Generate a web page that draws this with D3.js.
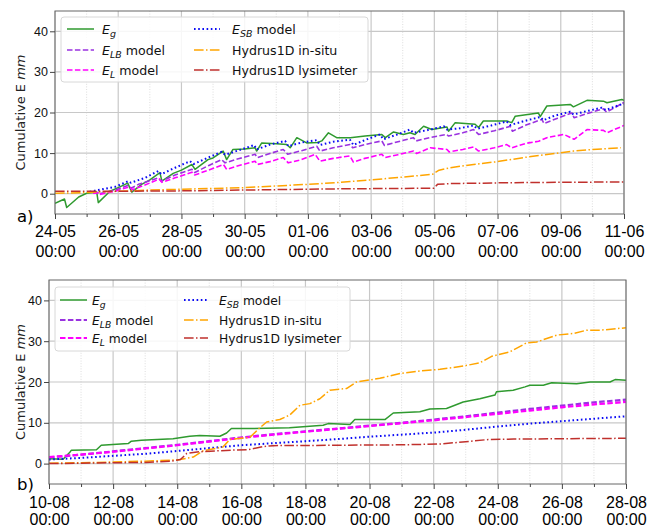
<!DOCTYPE html>
<html>
<head>
<meta charset="utf-8">
<script src="https://cdn.jsdelivr.net/npm/d3@7"></script>
<style>
  body { margin: 0; background: #fff; }
  svg { font-family: "DejaVu Sans", sans-serif; }
</style>
</head>
<body>
<svg id="chart" width="648" height="528"></svg>
<script>
// panel a) 24-05 .. 11-06, values as [day offset, cumulative E mm]
let startA = new Date(2019, 4, 24);
let egA = [[0,-2.4],[0.3,-1.3],[0.37,-3.4],[0.75,-0.8],[1.0,0.1],[1.32,0.4],[1.37,-2.2],[1.74,0.6],[2.0,1.5],[2.3,2.6],[2.43,0.4],[2.74,2.3],[3.0,3.4],[3.32,5.2],[3.38,3.1],[3.74,5.0],[4.0,5.8],[4.33,7.2],[4.43,6.0],[4.84,8.4],[5.0,8.8],[5.32,10.5],[5.43,8.4],[5.63,10.9],[6.0,11.0],[6.33,11.3],[6.38,10.5],[6.54,12.5],[7.0,12.3],[7.33,12.1],[7.44,11.3],[7.65,13.8],[7.96,12.5],[8.3,12.6],[8.44,13.0],[8.65,15.0],[8.91,13.8],[9.34,13.8],[9.81,14.2],[10.34,14.6],[10.45,13.8],[10.71,15.2],[11.02,14.6],[11.23,15.0],[11.39,14.6],[11.66,16.6],[11.92,15.8],[12.3,16.3],[12.4,16.4],[12.45,15.4],[12.66,17.5],[13.29,17.1],[13.4,16.3],[13.55,17.9],[14.29,17.9],[14.45,17.5],[14.56,19.1],[15.29,19.9],[15.35,19.0],[15.56,21.6],[16.3,22.0],[16.4,21.4],[16.83,23.0],[17.35,22.8],[17.46,22.4],[17.93,23.2],[18,23.0]];
let elbA = [[1.2,0.1],[1.37,0.3],[1.4,0.0],[1.9,0.9],[2.3,2.0],[2.42,1.4],[2.64,2.3],[3.27,3.9],[3.36,3.1],[3.8,4.6],[4.33,6.0],[4.42,5.2],[4.85,6.9],[5.27,8.4],[5.38,7.6],[5.8,8.6],[6.33,9.7],[6.4,8.9],[6.8,9.9],[7.22,10.9],[7.36,9.7],[7.8,10.6],[8.28,11.7],[8.38,10.5],[8.8,11.3],[9.33,12.1],[9.42,11.3],[9.8,12.1],[10.34,13.0],[10.42,11.9],[10.85,12.8],[11.34,13.8],[11.42,13.0],[11.9,13.9],[12.39,14.6],[12.45,14.2],[12.9,15.0],[13.24,15.8],[13.4,14.6],[13.9,15.5],[14.4,16.6],[14.47,15.4],[14.9,16.9],[15.4,18.3],[15.47,17.3],[15.9,18.6],[16.35,19.9],[16.42,18.7],[16.9,19.9],[17.35,20.9],[17.45,20.1],[17.98,22.4],[18,22.3]];
let elA = [[1.2,0.1],[1.37,0.2],[1.4,-0.2],[1.9,0.6],[2.35,1.7],[2.45,1.0],[2.8,2.0],[3.3,3.6],[3.38,2.8],[3.8,3.9],[4.33,5.3],[4.42,4.6],[4.85,5.8],[5.33,7.2],[5.43,6.0],[5.85,7.0],[6.33,8.0],[6.4,7.2],[6.8,7.9],[7.22,8.9],[7.38,7.6],[7.8,8.4],[8.23,9.7],[8.38,8.0],[8.8,8.7],[9.33,9.3],[9.44,7.8],[9.8,8.7],[10.34,9.7],[10.44,8.9],[10.85,9.6],[11.34,10.5],[11.44,9.9],[11.87,11.3],[12.4,10.9],[12.47,10.3],[12.9,10.9],[13.24,11.5],[13.4,10.5],[13.9,11.3],[14.29,12.1],[14.45,11.3],[14.9,12.4],[15.3,12.9],[15.56,13.8],[16.1,14.6],[16.42,13.4],[16.83,15.8],[17.35,15.6],[17.46,15.0],[18,16.8]];
let esbA = [[1.1,0.5],[1.37,0.9],[1.9,1.7],[2.32,3.1],[2.4,2.7],[2.85,3.9],[3.27,5.6],[3.36,4.8],[3.8,6.4],[4.27,8.0],[4.38,7.3],[4.85,8.9],[5.27,10.3],[5.38,9.6],[5.9,10.9],[6.3,12.0],[6.38,10.9],[6.8,12.1],[7.28,13.0],[7.38,11.7],[7.8,12.6],[8.28,13.2],[8.38,12.0],[8.8,12.8],[9.33,13.3],[9.44,12.0],[9.8,13.2],[10.28,14.6],[10.39,13.4],[10.8,14.5],[11.23,15.8],[11.34,15.0],[11.87,15.8],[12.3,16.6],[12.4,15.8],[12.8,16.1],[13.24,16.8],[13.36,16.0],[13.8,16.8],[14.29,17.8],[14.4,16.9],[14.8,17.8],[15.35,18.9],[15.45,18.1],[15.8,19.2],[16.3,20.2],[16.4,19.5],[16.8,20.3],[17.3,21.2],[17.42,20.6],[17.98,22.2],[18,22.1]];
let insituA = [[0,0.1],[1,0.3],[2,0.6],[3,0.9],[4,1.1],[5,1.3],[6,1.5],[7,1.9],[8,2.3],[9,2.8],[10,3.4],[11,4.1],[11.95,4.8],[12.15,5.8],[12.5,6.4],[13.24,7.2],[14,7.9],[14.82,8.9],[15.5,9.6],[16.4,10.5],[17,10.9],[17.9,11.3]];
let lysA = [[0,0.6],[1,0.6],[2,0.6],[3,0.65],[4,0.7],[5,0.8],[6,0.9],[7,1.0],[8,1.1],[9,1.2],[10,1.25],[11,1.3],[11.98,1.35],[12.1,2.3],[12.5,2.5],[13.5,2.6],[14.3,2.7],[16,2.8],[18,2.9]];

// panel b) 10-08 .. 28-08
let startB = new Date(2019, 7, 10);
let egB = [[0,1.2],[0.44,1.05],[0.65,2.8],[0.7,3.3],[1.48,3.4],[1.63,4.5],[2.47,4.9],[2.57,5.5],[2.88,5.7],[3.87,6.1],[4.39,6.7],[4.7,6.9],[5.33,6.7],[5.54,7.5],[5.69,8.6],[6.26,8.6],[7.5,8.8],[8.55,9.4],[8.71,9.8],[9.39,9.6],[9.54,10.8],[10.48,10.8],[10.74,12.4],[11.57,12.7],[11.88,13.4],[12.4,13.5],[12.92,15.1],[13.44,15.9],[13.91,16.8],[13.96,17.6],[14.48,18.0],[14.85,18.8],[15.0,19.2],[15.42,19.2],[15.68,19.8],[16.46,19.6],[16.88,20.0],[17.5,20.0],[17.66,20.6],[18,20.4]];
let elbB = [[0,1.5],[1,2.2],[2,3.0],[3,3.8],[4,4.6],[5,5.5],[6,6.4],[7,7.2],[8,7.9],[9,8.6],[10,9.3],[11,10.0],[12,10.8],[13,11.6],[14,12.5],[15,13.4],[16,14.2],[17,15.0],[18,15.7]];
let elB = [[0,1.6],[1,2.2],[2,2.9],[3,3.7],[4,4.5],[5,5.4],[6,6.3],[7,7.1],[8,7.8],[9,8.5],[10,9.2],[11,9.9],[12,10.6],[13,11.4],[14,12.2],[15,13.0],[16,13.8],[17,14.5],[18,15.1]];
let esbB = [[0,1.0],[1,1.4],[2,1.9],[3,2.4],[4,3.1],[5,3.8],[6,4.5],[7,5.0],[8,5.5],[9,6.0],[10,6.6],[11,7.1],[12,7.6],[13,8.3],[14,9.1],[15,9.8],[16,10.4],[17,11.0],[18,11.6]];
let insituB = [[0,0.1],[1,0.2],[2,0.4],[3,0.6],[4,0.9],[4.5,1.6],[4.8,3.1],[5.43,4.1],[5.64,5.9],[6.26,6.4],[6.58,8.8],[6.79,10.2],[7.2,10.8],[7.51,11.9],[7.83,14.3],[8.14,14.7],[8.45,15.9],[8.76,18.0],[9.28,18.4],[9.59,20.0],[10.32,20.9],[10.95,22.1],[11.57,22.7],[12.2,23.1],[12.92,23.9],[13.44,24.7],[13.81,26.3],[14.38,27.4],[14.9,29.6],[15.21,29.8],[15.84,31.5],[16.36,31.9],[16.78,32.7],[17.2,32.7],[18,33.3]];
let lysB = [[0,0.0],[1,0.1],[2,0.2],[3,0.3],[3.8,0.6],[4.1,1.0],[4.3,2.5],[4.7,2.9],[5.7,3.3],[6.2,3.4],[6.7,4.2],[7.0,4.4],[9,4.5],[11,4.6],[12.2,4.8],[12.9,5.3],[13.7,5.9],[14.5,6.0],[16,6.1],[18,6.2]];

let periodDays = 18;
let yTicks = [0, 10, 20, 30, 40];
let yDomain = [-5, 45];

// legend labels: [italic E, subscript, plain rest]
let seriesLabels = [
  ["E", "g", ""],
  ["E", "LB", " model"],
  ["E", "L", " model"],
  ["E", "SB", " model"],
  ["", "", "Hydrus1D in-situ"],
  ["", "", "Hydrus1D lysimeter"]
];

let styles = [
  { color: "#2f9a2f", dash: null, width: 1.5 },
  { color: "#9a32e0", dash: "5.5,2.4", width: 1.6 },
  { color: "#ff00ff", dash: "5.5,2.4", width: 1.6 },
  { color: "#0a0af5", dash: "1.6,2.6", width: 2 },
  { color: "#ffa500", dash: "9.6,2.4,1.5,2.4", width: 1.5 },
  { color: "#c0302c", dash: "9.6,2.4,1.5,2.4", width: 1.5 }
];

let svg = d3.select("#chart");
let dayMs = 24 * 3600 * 1000;

function drawPanel(p) {
  let endDate = new Date(p.start.getTime() + periodDays * dayMs);

  let xScale = d3.scaleTime()
    .domain([p.start, endDate])
    .range([p.left, p.right]);

  let yScale = d3.scaleLinear()
    .domain(yDomain)
    .range([p.bottom, p.top]);

  let majorDays = d3.timeDay.range(p.start, new Date(endDate.getTime() + 1), 2);
  let minorDays = d3.timeDay.range(p.start, new Date(endDate.getTime() + 1), 1)
    .filter((d, i) => i % 2 === 1);

  // minor grid (dotted)
  let grid = svg.append("g");
  grid.selectAll(".minor")
    .data(minorDays)
    .enter()
    .append("line")
    .attr("x1", d => xScale(d)).attr("x2", d => xScale(d))
    .attr("y1", p.top).attr("y2", p.bottom)
    .attr("stroke", "#d4d4d4")
    .attr("stroke-width", 0.8)
    .attr("stroke-dasharray", "1,1.6");

  // major grid
  grid.selectAll(".vmaj")
    .data(majorDays)
    .enter()
    .append("line")
    .attr("x1", d => xScale(d)).attr("x2", d => xScale(d))
    .attr("y1", p.top).attr("y2", p.bottom)
    .attr("stroke", "#c8c8c8")
    .attr("stroke-width", 1.2);

  grid.selectAll(".hmaj")
    .data(yTicks)
    .enter()
    .append("line")
    .attr("x1", p.left).attr("x2", p.right)
    .attr("y1", d => yScale(d)).attr("y2", d => yScale(d))
    .attr("stroke", "#c8c8c8")
    .attr("stroke-width", 1.2);

  // series lines
  let line = d3.line()
    .x(d => xScale(new Date(p.start.getTime() + d[0] * dayMs)))
    .y(d => yScale(d[1]));

  let clipId = "clip" + p.letter.charAt(0);
  svg.append("clipPath").attr("id", clipId)
    .append("rect")
    .attr("x", p.left).attr("y", p.top)
    .attr("width", p.right - p.left).attr("height", p.bottom - p.top);

  let lines = svg.append("g").attr("clip-path", "url(#" + clipId + ")");
  p.series.forEach(function (s, i) {
    let st = styles[i];
    lines.append("path")
      .datum(s)
      .attr("d", line)
      .attr("fill", "none")
      .attr("stroke", st.color)
      .attr("stroke-width", p.widths ? p.widths[i] : st.width)
      .attr("stroke-dasharray", st.dash)
      .attr("stroke-linejoin", "round");
  });

  // frame
  svg.append("rect")
    .attr("x", p.left).attr("y", p.top)
    .attr("width", p.right - p.left).attr("height", p.bottom - p.top)
    .attr("fill", "none")
    .attr("stroke", "#666")
    .attr("stroke-width", 1);

  // y axis
  let yAxis = d3.axisLeft(yScale).tickValues(yTicks).tickSize(5).tickPadding(2);
  let yg = svg.append("g")
    .attr("transform", "translate(" + p.left + ",0)")
    .call(yAxis);
  yg.select(".domain").remove();
  yg.selectAll("line").attr("stroke", "#444");
  yg.selectAll("text").attr("font-size", 12.5).attr("fill", "#111");

  // x axis minor ticks
  let xMinor = d3.axisBottom(xScale).tickValues(minorDays).tickSize(3).tickFormat("");
  let xmg = svg.append("g")
    .attr("transform", "translate(0," + p.bottom + ")")
    .call(xMinor);
  xmg.select(".domain").remove();
  xmg.selectAll("line").attr("stroke", "#444");

  // x axis major ticks with two-line labels
  let fmt = d3.timeFormat("%d-%m");
  let xAxis = d3.axisBottom(xScale).tickValues(majorDays).tickSize(5).tickFormat(fmt);
  let xg = svg.append("g")
    .attr("transform", "translate(0," + p.bottom + ")")
    .call(xAxis);
  xg.select(".domain").remove();
  xg.selectAll("line").attr("stroke", "#444");
  xg.selectAll("text")
    .attr("font-size", 16)
    .attr("fill", "#000")
    .attr("y", 0)
    .attr("dy", null)
    .each(function (d) {
      let t = d3.select(this);
      t.text(null);
      t.append("tspan").attr("x", 0).attr("y", p.lab1).text(fmt(d));
      t.append("tspan").attr("x", 0).attr("y", p.lab2).text("00:00");
    });

  // y label
  let yl = svg.append("text")
    .attr("transform", "translate(" + p.ylabX + "," + ((p.top + p.bottom) / 2) + ") rotate(-90)")
    .attr("text-anchor", "middle")
    .attr("font-size", 13)
    .attr("fill", "#222");
  yl.append("tspan").text("Cumulative E ");
  yl.append("tspan").attr("font-style", "italic").text("mm");

  // panel letter
  svg.append("text")
    .attr("x", 17).attr("y", p.letterY)
    .attr("font-size", 16.5)
    .attr("fill", "#000")
    .text(p.letter);

  // legend
  let lg = p.legend;
  let leg = svg.append("g");
  leg.append("rect")
    .attr("x", lg.x).attr("y", lg.y)
    .attr("width", lg.w).attr("height", lg.h)
    .attr("rx", 3)
    .attr("fill", "#fff").attr("fill-opacity", 0.85)
    .attr("stroke", "#d8d8d8");

  seriesLabels.forEach(function (lab, i) {
    let col = i < 3 ? lg.col1 : lg.col2;
    let ry = lg.y + lg.rows[i % 3];
    let st = styles[i];
    leg.append("line")
      .attr("x1", lg.x + col[0]).attr("x2", lg.x + col[1])
      .attr("y1", ry).attr("y2", ry)
      .attr("stroke", st.color)
      .attr("stroke-width", p.widths ? p.widths[i] : st.width)
      .attr("stroke-dasharray", st.dash);
    let t = leg.append("text")
      .attr("x", lg.x + col[2]).attr("y", ry + 4.5)
      .attr("font-size", lg.font)
      .attr("fill", "#111");
    if (lab[0]) {
      t.append("tspan").attr("font-style", "italic").text(lab[0]);
      t.append("tspan").attr("font-style", "italic")
        .attr("font-size", lg.font * 0.75).attr("dy", 3).text(lab[1]);
      t.append("tspan").attr("dy", -3).text(lab[2]);
    } else {
      t.text(lab[2]);
    }
  });
}

drawPanel({
  start: startA,
  series: [egA, elbA, elA, esbA, insituA, lysA],
  left: 55, right: 624, top: 11, bottom: 214,
  lab1: 23, lab2: 42.5,
  ylabX: 25,
  letter: "a)", letterY: 222,
  legend: { x: 61, y: 17, w: 307, h: 65, rows: [12, 33, 53], col1: [6, 33, 41], col2: [133, 159, 171], font: 12.6 }
});

drawPanel({
  start: startB,
  series: [egB, elbB, elB, esbB, insituB, lysB],
  widths: [1.5, 2.2, 2.2, 2, 1.5, 1.5],
  left: 49, right: 626, top: 280, bottom: 484,
  lab1: 24, lab2: 41,
  ylabX: 25,
  letter: "b)", letterY: 490,
  legend: { x: 55, y: 287, w: 295, h: 64, rows: [13, 33, 51], col1: [5, 32, 37], col2: [129, 153, 164], font: 12.3 }
});
</script>
</body>
</html>
